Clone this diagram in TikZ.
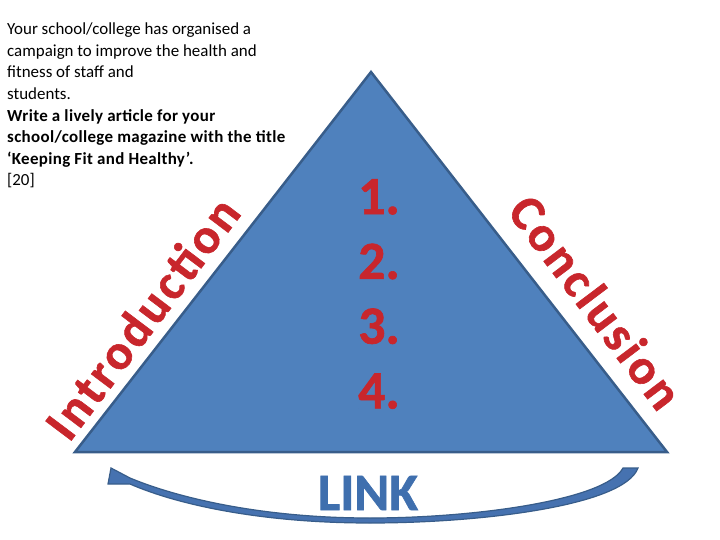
\documentclass[tikz,border=0pt]{standalone}
\usepackage{fontspec}
\setmainfont{Carlito}
\usepackage{tikz}
\usetikzlibrary{positioning,calc}
\newfontfamily\spacedfont[LetterSpace=6,FakeBold=1.2]{Carlito}
\newfontfamily\heavyfont[FakeBold=1.2]{Carlito}
\newfontfamily\widebold[LetterSpace=2]{Carlito}
\definecolor{triblue}{HTML}{4F81BD}
\definecolor{tridark}{HTML}{385D8A}
\definecolor{lblred}{HTML}{C8262C}
\definecolor{linkblue}{HTML}{3F6FAE}
\definecolor{arrowblue}{HTML}{4672B0}
\tikzset{
  sidelbl/.style={font=\spacedfont\fontsize{50}{54}\selectfont\bfseries,text=lblred,inner sep=0pt},
  task/.style={font=\fontsize{17}{21.6}\selectfont,align=left,inner sep=0pt,anchor=north west},
}
\begin{document}
\begin{tikzpicture}[x=1bp,y=-1bp]
  \useasboundingbox (0,0) rectangle (720,540);
  % the triangle
  \coordinate (apex) at (371,72);
  \coordinate (bl) at (75,452);
  \coordinate (br) at (667,452);
  \draw[fill=triblue,draw=tridark,line width=2.5bp,line join=miter]
    (apex) -- (br) -- (bl) -- cycle;
  % task text
  \node[task] (brief) at (7,23)
    {Your school/college has organised a\\
     campaign to improve the health and\\
     fitness of staff and\\
     students.\\
     {\widebold\bfseries Write a lively article for your}\\
     {\widebold\bfseries school/college magazine with the title}\\
     {\widebold\bfseries ‘Keeping Fit and Healthy’.}\\
     {}[20]};
  % side labels
  \node[sidelbl,rotate=53] (intro) at (142,318) {Introduction};
  \node[sidelbl,rotate=-53] (concl) at (596,302) {Conclusion};
  \node[font=\heavyfont\fontsize{54}{65}\selectfont\bfseries,text=lblred,align=center,inner sep=0pt]
    (points) at (379,294) {1.\\2.\\3.\\4.};
  % link arrow
  \coordinate (rend) at (638,468);
  \coordinate (lend) at (130,484);
  \draw[fill=arrowblue,draw=tridark,line width=1.2bp]
    (rend) .. controls (624,506) and (480,523) .. (370,523)
    .. controls (262,523) and (178,505) .. (lend)
    -- (108,484) -- (111,468) -- (130,478)
    .. controls (178,498) and (262,518) .. (370,518)
    .. controls (475,518) and (606,500) .. (623,468) -- cycle;
  \node[font=\heavyfont\fontsize{53}{60}\selectfont\bfseries,text=linkblue,inner sep=0pt]
    (link) at (368,493) {LINK};
\end{tikzpicture}
\end{document}
